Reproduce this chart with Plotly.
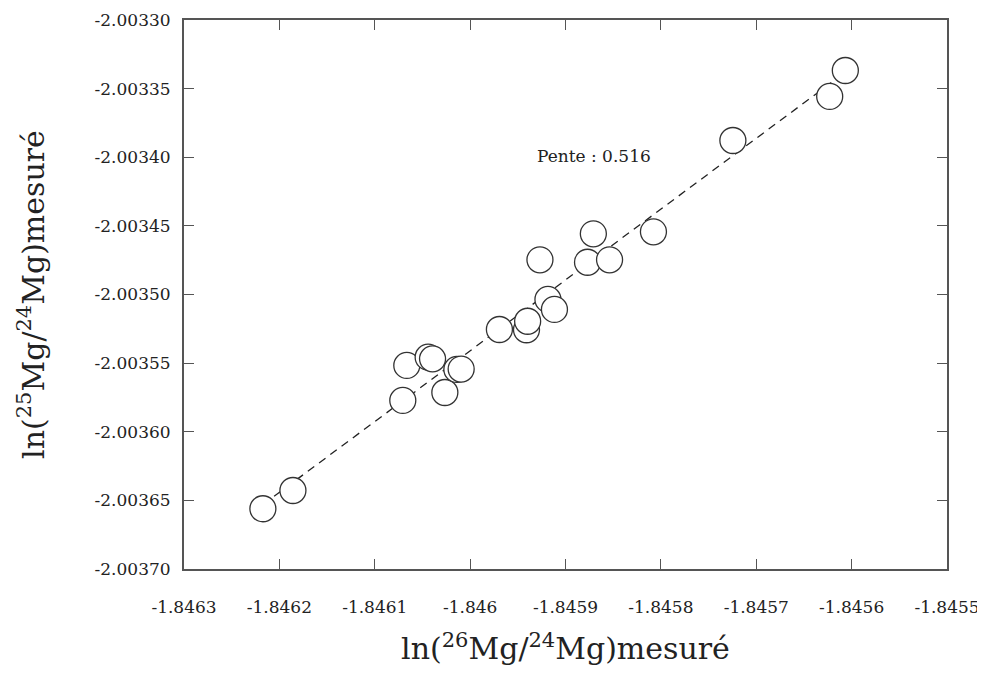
import numpy as np
import plotly.graph_objects as go

ln26_24 = [-1.8462173, -1.8461858, -1.8460706, -1.8460664, -1.8460440, -1.8460394,
           -1.8460265, -1.8460139, -1.8460094, -1.8459693, -1.8459409, -1.8459397,
           -1.8459184, -1.8459116, -1.8459268, -1.8458769, -1.8458708, -1.8458538,
           -1.8458078, -1.8457245, -1.8456230, -1.8456066]
ln25_24 = [-2.0036561, -2.0036428, -2.0035772, -2.0035517, -2.0035457, -2.0035469,
           -2.0035714, -2.0035546, -2.0035543, -2.0035255, -2.0035257, -2.0035195,
           -2.0035036, -2.0035109, -2.0034747, -2.0034765, -2.0034558, -2.0034747,
           -2.0034543, -2.0033878, -2.0033557, -2.0033368]

slope = 0.516

x_tickvals = [-1.8463, -1.8462, -1.8461, -1.8460, -1.8459, -1.8458, -1.8457, -1.8456, -1.8455]
x_ticktext = ["-1.8463", "-1.8462", "-1.8461", "-1.846", "-1.8459", "-1.8458", "-1.8457", "-1.8456", "-1.8455"]
y_tickvals = [-2.00330, -2.00335, -2.00340, -2.00345, -2.00350, -2.00355, -2.00360, -2.00365, -2.00370]
y_ticktext = ["-2.00330", "-2.00335", "-2.00340", "-2.00345", "-2.00350", "-2.00355", "-2.00360", "-2.00365", "-2.00370"]

x = np.array(ln26_24)
y = np.array(ln25_24)

# dashed line with the stated slope, through the centroid of the points
intercept = y.mean() - slope * x.mean()
line_x = np.array([x.min(), x.max()])
line_y = slope * line_x + intercept

FONT = "DejaVu Serif"

fig = go.Figure()

fig.add_trace(go.Scatter(
    x=line_x, y=line_y, mode="lines",
    line=dict(color="#222", width=1.3, dash="8px,6px"),
    hoverinfo="skip",
))

fig.add_trace(go.Scatter(
    x=x, y=y, mode="markers",
    marker=dict(size=26, color="white", line=dict(color="#333", width=1.3)),
))

fig.add_annotation(
    x=-1.84587, y=-2.003399, xref="x", yref="y",
    text="Pente : 0.516", showarrow=False,
    font=dict(family=FONT, size=17, color="#222"),
)

axis_common = dict(
    showline=True, linewidth=2, linecolor="#555", mirror="ticks",
    ticks="inside", ticklen=10, tickwidth=1, tickcolor="#555",
    showgrid=False, zeroline=False,
    tickfont=dict(family=FONT, size=17, color="#222"),
)

fig.update_xaxes(
    range=[-1.8463, -1.8455], tickvals=x_tickvals, ticktext=x_ticktext,
    ticklabelstandoff=22,
    title=dict(text="ln(<sup>26</sup>Mg/<sup>24</sup>Mg)mesuré",
               font=dict(family=FONT, size=30, color="#222"), standoff=22),
    **axis_common,
)
fig.update_yaxes(
    range=[-2.00370, -2.00330], tickvals=y_tickvals, ticktext=y_ticktext,
    ticklabelstandoff=8,
    title=dict(text="ln(<sup>25</sup>Mg/<sup>24</sup>Mg)mesuré",
               font=dict(family=FONT, size=30, color="#222"), standoff=41),
    **axis_common,
)

# the page puts the figure 8px in from the top-left corner
fig.update_layout(
    width=977, height=680,
    margin=dict(l=176, r=38, t=12, b=119, autoexpand=False),
    plot_bgcolor="white", paper_bgcolor="white",
    showlegend=False,
)

fig.write_html("out.html")
